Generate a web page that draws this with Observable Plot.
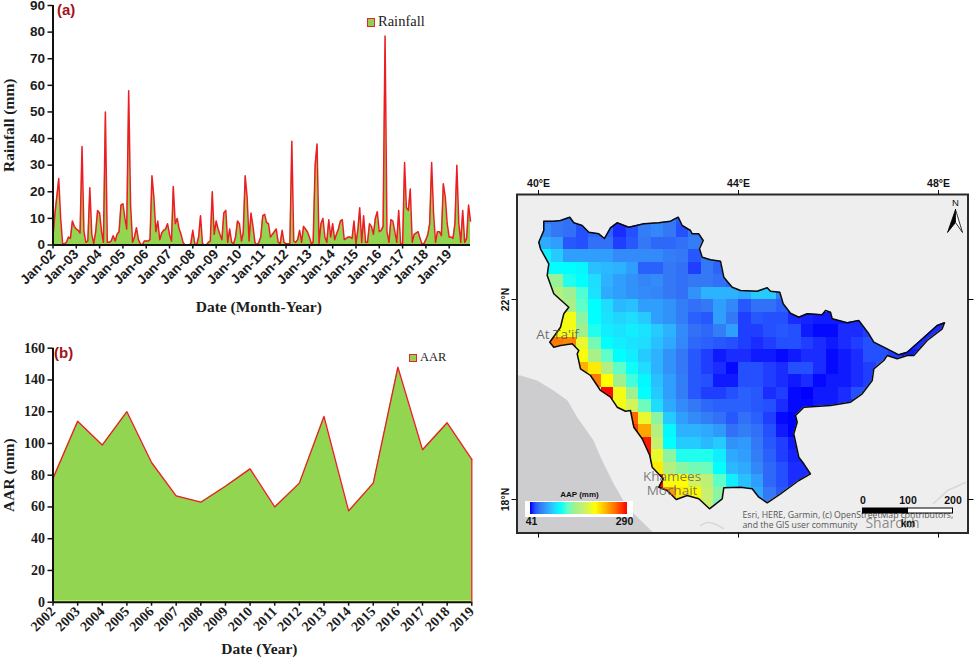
<!DOCTYPE html>
<html>
<head>
<meta charset="utf-8">
<script src="https://cdn.jsdelivr.net/npm/d3@7"></script>
<script src="https://cdn.jsdelivr.net/npm/@observablehq/plot@0.6"></script>
<style>
html,body{margin:0;padding:0;background:#fff}
#page{position:relative;width:974px;height:659px;overflow:hidden}
#page>*{position:absolute}
.swatch{box-sizing:border-box;background:#92d050;border:1.5px solid #e8232a}
.leg{font-family:"Liberation Serif",serif;color:#222}
</style>
</head>
<body>
<div id="page"></div>
<script>
const rain2002=[3,12,18,25,10,0.5,0.5,1,3,2.5,9,7];
const rain2003=[6,5.5,4.5,37,5,1,1.5,21.5,4,0.5,5,13];
const rain2004=[12,5,1,50,1,1,1.5,3.5,1.5,4,5,15];
const rain2005=[15.5,10,6,58,15,1,3,6.5,2,0.5,0,1.5];
const rain2006=[1.5,1.5,2,26,18,5,9,2,4.5,5.5,6,8];
const rain2007=[4,1.5,22,8,10,6,4,1,0,0,0,0.5];
const rain2008=[5.5,0.5,0,3,11,0.5,0,0,1,1.5,20,4];
const rain2009=[9,6,4,2,12,13,1,6,1,0.5,3,9];
const rain2010=[8,1.5,4.5,26,18,1.5,12,7,1,0,1,3];
const rain2011=[11,11.5,8.5,8,3,4,5,6,1,0.5,5.5,1];
const rain2012=[0.5,0.5,0.5,39,1.5,1,2,5.5,1,7,6,5];
const rain2013=[3,0.5,1,30,38,0.5,8,10,3,1,9.5,3];
const rain2014=[8,2,4,6,9,9.5,2,2.5,3,3,2.5,9];
const rain2015=[0.5,6,14,1,11,1,1,8,7,4,10,12.5];
const rain2016=[5,5.5,7,78.5,5,1,9.5,9,5,1,13,0.5];
const rain2017=[0.5,31,14,13,21,1,4,4.5,5,2.5,0.5,0.5];
const rain2018=[2,4,8,31,12,1,5,5,3.5,23,18,8];
const rain2019=[3,3,2.5,8,30,8,1,13,1,2.5,15,9];
const rainfall=[rain2002,rain2003,rain2004,rain2005,rain2006,rain2007,rain2008,rain2009,rain2010,rain2011,rain2012,rain2013,rain2014,rain2015,rain2016,rain2017,rain2018,rain2019].flat();

const years=[2002,2003,2004,2005,2006,2007,2008,2009,2010,2011,2012,2013,2014,2015,2016,2017,2018,2019];
const aar=[78,114,99,120,88,67,63,73,84,60,75,117,57.5,75,148,96,113,90];

// AAP grid, 0.25 degree cells: row 0 top = 23.75N, column 0 left = 40.0E
const _=null;
const aapGrid=[
[60,60,58,52,55,52,48,50,62,65,60,52,60],
[66,60,58,50,55,55,46,50,62,65,60,50,60,60],
[76,72,52,50,58,58,48,52,60,56,56,58,62,62],
[95,85,72,72,72,72,66,66,66,66,62,60,52,60,60],
[100,100,100,98,82,80,78,72,54,54,60,58,48,60,55],
[130,128,105,100,90,78,72,68,64,66,60,58,60,60,58,55,55],
[140,140,130,112,92,76,72,68,66,64,60,58,68,78,78,78,75,85,85,62],
[150,150,135,115,100,90,80,82,72,72,68,62,58,60,72,65,52,58,58,54,50],
[_,170,170,125,100,92,88,90,85,72,68,62,54,52,72,60,48,52,50,50,46,45,44,44,44,46,46,46,46,46,46,46,46],
[_,170,170,130,105,95,92,95,92,85,78,66,58,56,62,72,48,48,50,52,50,44,42,42,46,46,48,46,46,46,46,46,46],
[250,240,235,165,120,100,95,92,90,82,75,65,56,54,52,50,48,46,48,50,50,48,46,44,46,48,50,50,48,46,46,46,46],
[_,_,_,172,135,115,100,95,85,78,68,60,52,48,44,46,46,44,44,42,44,46,46,42,44,46,50,50,48,44,44,44,46],
[_,_,_,215,185,140,115,102,90,78,68,60,52,48,46,42,50,50,48,46,50,50,46,42,44,46,48,52,50],
[_,_,_,_,240,175,130,110,98,82,72,62,52,50,44,44,50,50,48,46,44,46,42,44,44,46,48],
[_,_,_,_,_,285,170,130,100,85,72,62,52,48,48,50,54,52,46,48,42,41,44,44,46,50,50],
[_,_,_,_,_,_,170,155,118,90,75,66,60,56,54,54,54,52,50,46,42,42,44,44,46,46],
[_,_,_,_,_,_,_,250,165,125,85,72,66,62,58,52,58,54,48,42,41,41],
[_,_,_,_,_,_,_,265,220,140,98,78,78,75,70,58,62,58,50,44,41,44],
[_,_,_,_,_,_,_,_,280,150,100,85,85,80,85,68,70,60,52,48,44,44],
[_,_,_,_,_,_,_,_,285,165,125,105,105,105,95,75,72,62,54,48,45,44],
[_,_,_,_,_,_,_,_,285,185,140,125,120,118,100,80,76,65,56,50,46,46],
[_,_,_,_,_,_,_,_,_,285,172,175,155,145,115,95,82,72,56,50,46,46],
[_,_,_,_,_,_,_,_,_,285,225,185,178,150,125,90,90,76,60,52,48],
[_,_,_,_,_,_,_,_,_,_,200,185,175,150,120,100,90,80,62,56]
];
const colorDomain=[41,46,50,60,75,90,100,115,130,150,175,215,245,290];
const colorRange=["#0000ff","#1a2cff","#2450ff","#3478f5","#2fa8ff","#20dcff","#00ffff","#60ffc8","#a0f090","#c8f070","#ffff00","#ffb000","#ff7000","#ff0000"];

const basinBoundary=[[40.106,23.566],[40.306,23.566],[40.44,23.58],[40.626,23.646],[40.706,23.534],[40.874,23.48],[41.006,23.346],[41.206,23.314],[41.32,23.22],[41.44,23.434],[41.574,23.534],[41.806,23.446],[42.106,23.514],[42.406,23.534],[42.64,23.566],[42.794,23.646],[42.874,23.48],[43.04,23.38],[43.074,23.314],[43.206,23.314],[43.294,23.18],[43.22,23.014],[43.274,22.846],[43.44,22.794],[43.64,22.766],[43.706,22.446],[43.874,22.246],[44.04,22.18],[44.374,22.166],[44.574,22.234],[44.64,22.166],[44.826,22.146],[44.894,21.914],[45.04,21.726],[45.206,21.646],[45.374,21.714],[45.674,21.694],[45.74,21.78],[45.84,21.746],[45.874,21.614],[46.174,21.534],[46.406,21.58],[46.606,21.314],[46.706,21.146],[46.974,21.014],[47.206,20.894],[47.374,20.946],[47.64,21.18],[47.974,21.48],[48.12,21.534],[48.074,21.414],[47.774,21.18],[47.506,20.88],[47.374,20.88],[47.174,20.814],[46.974,20.88],[46.906,20.78],[46.706,20.614],[46.674,20.38],[46.474,20.114],[46.24,19.946],[45.84,19.88],[45.306,19.846],[45.14,19.68],[45.174,19.546],[45.106,19.314],[45.206,18.846],[45.306,18.714],[45.44,18.514],[45.206,18.38],[44.84,18.114],[44.574,17.934],[44.406,18.046],[44.274,18.214],[44.04,18.246],[43.706,18.234],[43.674,18.014],[43.42,17.814],[43.206,18.014],[42.974,18.08],[42.754,18.0],[42.574,18.18],[42.406,18.246],[42.494,18.414],[42.274,18.646],[42.226,18.88],[42.074,19.214],[41.906,19.446],[41.84,19.78],[41.74,19.766],[41.574,19.846],[41.44,20.046],[41.24,20.18],[41.04,20.48],[40.84,20.614],[40.774,20.914],[40.806,20.98],[40.674,21.114],[40.44,21.08],[40.306,21.046],[40.226,21.146],[40.44,21.446],[40.506,21.714],[40.606,21.846],[40.306,22.114],[40.174,22.48],[40.206,22.714],[40.04,23.014],[40.006,23.146],[40.106,23.38],[40.106,23.566]];
const sandArea=[[39.57,20.48],[39.64,20.48],[39.97,20.38],[40.3,20.18],[40.58,19.98],[40.77,19.65],[41.1,19.18],[41.24,18.85],[41.5,18.32],[41.77,17.85],[42.3,17.33],[39.57,17.33]];
const roadEast=[[47.9,17.92],[48.18,18.18],[48.54,18.34]];
const roadSouth=[[43.24,17.48],[43.38,17.54],[43.5,17.52],[43.7,17.42]];
const northLeft=[[48.34,23.8],[48.18,23.34],[48.34,23.54],[48.34,23.8]];
const northRight=[[48.34,23.8],[48.48,23.34],[48.34,23.54],[48.34,23.8]];
const placeLabels=[
  {t:"At Ta'if",lon:40.38,lat:21.29,s:13.5,c:"#555"},
  {t:"Khamees",lon:42.67,lat:18.45,s:13.5,c:"#666"},
  {t:"Mochait",lon:42.67,lat:18.18,s:13.5,c:"#666"},
  {t:"Sharokh",lon:47.08,lat:17.52,s:14,c:"#777"}
];
const creditLabels=[
  {t:"Esri, HERE, Garmin, (c) OpenStreetMap contributors,",lon:44.08,lat:17.68},
  {t:"and the GIS user community",lon:44.08,lat:17.48}
];
const scaleBarBlack=[{x1:46.49,x2:47.39}];
const scaleBarWhite=[{x1:47.39,x2:48.29}];
const scaleLabels=[{t:"0",lon:46.49},{t:"100",lon:47.39},{t:"200",lon:48.29}];
const legendLabels=[{t:"41",lon:39.86,lat:17.56},{t:"290",lon:41.72,lat:17.56}];

const page=document.getElementById("page");
function place(node,left,top){node.style.left=left+"px";node.style.top=top+"px";page.appendChild(node);return node;}
function html(cls,left,top,w,h,txt,extra){const d=document.createElement("div");d.className=cls;d.style.width=w+"px";d.style.height=h+"px";if(txt)d.textContent=txt;if(extra)Object.assign(d.style,extra);return place(d,left,top);}

const green="#92d550", red="#ee1c25", ink="#1c1c1c";
const dates=d3.utcMonth.range(new Date(Date.UTC(2002,0,1)),new Date(Date.UTC(2020,0,1)));
const rainData=dates.map((d,i)=>({d,v:rainfall[i]}));
const janTicks=dates.filter(d=>d.getUTCMonth()===0);
const titleStyle={fontFamily:"Liberation Serif",fontWeight:"bold",fontSize:15.5,fill:ink,textAnchor:"middle"};

const chartA=Plot.plot({
  width:490,height:330,marginLeft:52.5,marginRight:20,marginTop:5,marginBottom:85.5,
  style:{background:"transparent",overflow:"visible"},
  x:{type:"utc",domain:[dates[0],dates[dates.length-1]]},
  y:{domain:[0,90]},
  marks:[
    Plot.areaY(rainData,{x:"d",y:"v",fill:green}),
    Plot.lineY(rainData,{x:"d",y:"v",stroke:red,strokeWidth:1.5}),
    Plot.axisY({ticks:d3.range(0,91,10),tickSize:5,tickPadding:3,label:null,
      fontFamily:"Liberation Sans",fontWeight:"bold",fontSize:13.5,color:ink,stroke:"#111",strokeWidth:1.5}),
    Plot.axisX({ticks:janTicks.slice(0,18),tickFormat:d3.utcFormat("Jan-%y"),tickRotate:-45,tickSize:4,tickPadding:3,label:null,
      fontFamily:"Liberation Sans",fontWeight:"bold",fontSize:13.5,color:ink,stroke:"#111",strokeWidth:1.5}),
    Plot.text(["Rainfall (mm)"],{text:d=>d,frameAnchor:"left",rotate:-90,dx:-43.5,...titleStyle}),
    Plot.text(["Date (Month-Year)"],{text:d=>d,frameAnchor:"bottom",dy:67,dx:-3,...titleStyle}),
    Plot.ruleY([0],{stroke:"#111",strokeWidth:2}),
    Plot.ruleX([dates[0]],{stroke:"#111",strokeWidth:2})
  ]
});
place(chartA,0,0);

const chartB=Plot.plot({
  width:490,height:324,marginLeft:52.5,marginRight:18.7,marginTop:12.7,marginBottom:57.3,
  style:{background:"transparent",overflow:"visible"},
  x:{type:"linear",domain:[2002,2019]},
  y:{domain:[0,160]},
  marks:[
    Plot.areaY(years.map((y,i)=>({y,v:aar[i]})),{x:"y",y:"v",fill:green}),
    Plot.ruleY([1],{stroke:"#b6f060",strokeWidth:1.2}),
    Plot.lineY(years.map((y,i)=>({y,v:aar[i]})),{x:"y",y:"v",stroke:red,strokeWidth:1.3}),
    Plot.ruleX([2019],{y1:0,y2:90,stroke:red,strokeWidth:1.3}),
    Plot.axisY({ticks:d3.range(0,161,20),tickSize:5,tickPadding:3,label:null,
      fontFamily:"Liberation Serif",fontWeight:"bold",fontSize:14,color:ink,stroke:"#111",strokeWidth:1.5}),
    Plot.axisX({ticks:years,tickFormat:d=>String(d),tickRotate:-45,tickSize:4,tickPadding:3,label:null,
      fontFamily:"Liberation Serif",fontWeight:"bold",fontSize:14,color:ink,stroke:"#111",strokeWidth:1.5}),
    Plot.text(["AAR (mm)"],{text:d=>d,frameAnchor:"left",rotate:-90,dx:-43.5,...titleStyle}),
    Plot.text(["Date (Year)"],{text:d=>d,frameAnchor:"bottom",dy:52,dx:-3,...titleStyle}),
    Plot.ruleY([0],{stroke:"#111",strokeWidth:2}),
    Plot.ruleX([2002],{stroke:"#111",strokeWidth:2})
  ]
});
place(chartB,0,335);

html("",57,1,40,20,"(a)",{font:"bold 15px 'Liberation Sans'",color:"#a3121a"});
html("",54,344,40,20,"(b)",{font:"bold 15px 'Liberation Sans'",color:"#a3121a"});
html("swatch",367,18,8,9);
html("leg",378,13,70,18,"Rainfall",{fontSize:"14.5px"});
html("swatch",409,354,8,8);
html("leg",420,350,40,16,"AAR",{fontSize:"12.5px"});

const cells=[];
aapGrid.forEach((row,r)=>row.forEach((v,c)=>{if(v!==null)cells.push({lon1:40+0.25*c,lon2:40.25+0.25*c,lat2:23.75-0.25*r,lat1:23.5-0.25*r,v});}));
const basinPoly={type:"Polygon",coordinates:[basinBoundary]};
const pointsOf=pts=>pts.map(p=>({lon:p[0],lat:p[1]}));

const mapPlot=Plot.plot({
  width:484,height:375,marginLeft:26.5,marginRight:6.5,marginTop:24,marginBottom:12.5,
  style:{background:"transparent",overflow:"visible"},
  x:{domain:[39.57,48.59]},
  y:{domain:[17.33,24.1]},
  color:{type:"linear",domain:colorDomain,range:colorRange},
  marks:[
    Plot.frame({fill:"#eeeeee",stroke:null}),
    Plot.line(pointsOf(sandArea),{x:"lon",y:"lat",fill:"#cdcdd0",stroke:null}),
    Plot.line(pointsOf(roadEast),{x:"lon",y:"lat",stroke:"#d8d8d8",strokeWidth:1.5}),
    Plot.line(pointsOf(roadSouth),{x:"lon",y:"lat",stroke:"#d8d8d8",strokeWidth:1.5,curve:"catmull-rom"}),
    Plot.rect(cells,{x1:"lon1",x2:"lon2",y1:"lat1",y2:"lat2",fill:"v",clip:basinPoly,shapeRendering:"crispEdges"}),
    Plot.line(pointsOf(basinBoundary),{x:"lon",y:"lat",stroke:"#0a0a0a",strokeWidth:1.5,curve:"linear"}),
    Plot.text(placeLabels,{x:"lon",y:"lat",text:"t",fontSize:"s",fill:"c",fontFamily:"Open Sans",fillOpacity:0.85}),
    Plot.text(creditLabels,{x:"lon",y:"lat",text:"t",textAnchor:"start",fontSize:8.7,fill:"#555",fontFamily:"Open Sans"}),
    Plot.rect(scaleBarBlack,{x1:"x1",x2:"x2",y1:17.72,y2:17.82,fill:"black",stroke:"black"}),
    Plot.rect(scaleBarWhite,{x1:"x1",x2:"x2",y1:17.72,y2:17.82,fill:"white",stroke:"black"}),
    Plot.text(scaleLabels,{x:"lon",y:17.97,text:"t",fontSize:10.5,fontWeight:"bold",fill:"#111",fontFamily:"Liberation Sans"}),
    Plot.text(["km"],{x:47.39,y:17.52,text:d=>d,fontSize:10,fontWeight:"bold",fill:"#111",fontFamily:"Liberation Sans"}),
    Plot.text(["N"],{x:48.34,y:23.94,text:d=>d,fontSize:9.5,fill:"#111",fontFamily:"Liberation Sans"}),
    Plot.line(pointsOf(northLeft),{x:"lon",y:"lat",fill:"#000",stroke:"#000",strokeWidth:0.8}),
    Plot.line(pointsOf(northRight),{x:"lon",y:"lat",fill:"#fff",stroke:"#000",strokeWidth:0.8}),
    Plot.text(legendLabels,{x:"lon",y:"lat",text:"t",fontSize:10.5,fontWeight:"bold",fill:"#111",fontFamily:"Liberation Sans"}),
    Plot.text(["AAP (mm)"],{x:40.82,y:18.1,text:d=>d,fontSize:8,fontWeight:"bold",fill:"#111",fontFamily:"Liberation Sans"}),
    Plot.frame({stroke:"#2a2a2a",strokeWidth:2}),
    Plot.axisX({anchor:"top",ticks:[40,44,48],tickSize:5,tickPadding:3,tickFormat:d=>d+"°E",label:null,fontFamily:"Liberation Sans",fontWeight:"bold",fontSize:10.5,color:"#111"}),
    Plot.axisX({anchor:"bottom",ticks:[40,44,48],tickSize:5,tickFormat:()=>"",label:null}),
    Plot.axisY({anchor:"left",ticks:[18,22],tickSize:5,tickPadding:3,tickRotate:-90,tickFormat:d=>d+"°N",label:null,fontFamily:"Liberation Sans",fontWeight:"bold",fontSize:10.5,color:"#111"}),
    Plot.axisY({anchor:"right",ticks:[18,22],tickSize:5,tickFormat:()=>"",label:null})
  ]
});
place(mapPlot,490,170);

const legendValues=d3.range(41,290,2);
const legendPlot=Plot.plot({
  width:108,height:16,marginLeft:5,marginRight:6,marginTop:1,marginBottom:3,
  style:{background:"#fff"},
  x:{type:"linear",domain:[41,100,175,290],range:[5,35,70,102],axis:null},
  y:{domain:[0,1],axis:null},
  color:{type:"linear",domain:colorDomain,range:colorRange},
  marks:[Plot.rect(legendValues,{x1:d=>d,x2:d=>d+2,y1:0,y2:1,fill:d=>d,shapeRendering:"crispEdges"})]
});
place(legendPlot,525,501);
</script>
</body>
</html>
